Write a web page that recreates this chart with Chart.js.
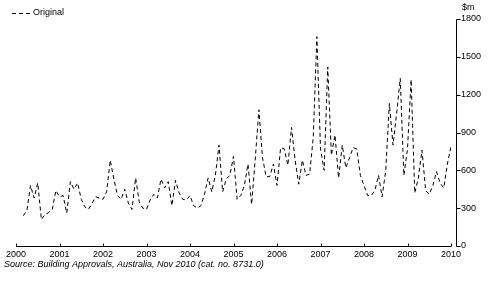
<!DOCTYPE html>
<html>
<head>
<meta charset="utf-8">
<script src="https://cdn.jsdelivr.net/npm/chart.js@4/dist/chart.umd.min.js"></script>
<style>
  html, body { margin: 0; padding: 0; background: #fff; }
  canvas { display: block; }
</style>
</head>
<body>
<canvas id="chart" width="491" height="295"></canvas>
<script>
// Building approvals, original series, $m, monthly from Mar 2000
const startYear = 2000;
const startMonth = 3;
const values = [
  240, 280, 480, 380, 500, 210, 250, 265, 290, 440,
  390, 400, 260, 510, 450, 500, 370, 310, 290, 340,
  390, 380, 370, 430, 680, 530, 400, 370, 450, 340,
  290, 540, 350, 300, 290, 365, 410, 380, 530, 460,
  510, 320, 520, 420, 370, 365, 400, 320, 300, 320,
  410, 540, 430, 560, 800, 430, 530, 560, 710, 370,
  400, 480, 650, 330, 690, 1080, 700, 550, 550, 650,
  480, 780, 770, 640, 940, 680, 490, 680, 560, 570,
  860, 1660, 770, 600, 1420, 720, 880, 540, 800, 620,
  700, 780, 770, 560, 480, 400, 400, 440, 560, 390,
  600, 1130, 800, 1050, 1330, 560, 770, 1320, 420, 540,
  760, 440, 410, 480, 590, 500, 460, 650, 790
];
const years = [2000, 2001, 2002, 2003, 2004, 2005, 2006, 2007, 2008, 2009, 2010];
const yTicks = [0, 300, 600, 900, 1200, 1500, 1800];

const FONT = "'Liberation Sans', Arial, sans-serif";
const points = values.map((v, i) => ({ x: startYear + (startMonth - 1 + i) / 12, y: v }));

// axis lines, ticks, legend and notes in the ABS style
const absAxes = {
  id: "absAxes",
  afterDraw(chart) {
    const { ctx, chartArea: a, scales: { x, y } } = chart;
    ctx.save();
    ctx.strokeStyle = "#000";
    ctx.lineWidth = 1;
    ctx.beginPath();
    const by = Math.round(y.getPixelForValue(0)) + 0.5;
    ctx.moveTo(x.getPixelForValue(years[0]), by);
    ctx.lineTo(x.getPixelForValue(years[years.length - 1]), by);
    years.forEach(yr => {
      const px = Math.round(x.getPixelForValue(yr)) + 0.5;
      ctx.moveTo(px, by);
      ctx.lineTo(px, by - 3);
    });
    const ax = Math.round(a.right) + 5.5;
    ctx.moveTo(ax, Math.round(y.getPixelForValue(1800)) + 0.5);
    ctx.lineTo(ax, by);
    yTicks.forEach(v => {
      const py = Math.round(y.getPixelForValue(v)) + 0.5;
      ctx.moveTo(ax, py);
      ctx.lineTo(ax + 4, py);
    });
    ctx.stroke();

    // legend
    ctx.beginPath();
    ctx.setLineDash([4, 3]);
    ctx.moveTo(12, 13.5);
    ctx.lineTo(31, 13.5);
    ctx.stroke();
    ctx.setLineDash([]);
    ctx.fillStyle = "#000";
    ctx.textBaseline = "middle";
    ctx.font = "9px " + FONT;
    ctx.fillText("Original", 33, 13);
    ctx.fillText("$m", 462, 8);
    ctx.font = "italic 9px " + FONT;
    ctx.fillText("Source: Building Approvals, Australia, Nov 2010 (cat. no. 8731.0)", 4, 264);
    ctx.restore();
  }
};

new Chart(document.getElementById("chart"), {
  type: "line",
  data: {
    datasets: [{
      label: "Original",
      data: points,
      borderColor: "#000",
      borderWidth: 1,
      borderDash: [4, 3],
      pointRadius: 0,
      tension: 0,
      fill: false
    }]
  },
  options: {
    responsive: false,
    animation: false,
    layout: { padding: { left: 16, top: 19, right: 0, bottom: 0 } },
    plugins: { legend: { display: false }, tooltip: { enabled: false } },
    scales: {
      x: {
        type: "linear",
        min: 2000,
        max: 2010,
        afterBuildTicks: s => { s.ticks = years.map(v => ({ value: v })); },
        afterFit: s => { s.height = 49; },
        grid: { display: false, drawTicks: true, tickLength: 0 },
        border: { display: false },
        ticks: {
          autoSkip: false, maxRotation: 0, padding: 3, color: "#000",
          font: { family: FONT, size: 9 },
          callback: v => String(v)
        }
      },
      y: {
        position: "right",
        min: 0,
        max: 1800,
        afterBuildTicks: s => { s.ticks = yTicks.map(v => ({ value: v })); },
        afterFit: s => { s.width = 40; },
        grid: { display: false, drawTicks: true, tickLength: 8 },
        border: { display: false },
        ticks: {
          padding: 2, color: "#000",
          font: { family: FONT, size: 9 },
          callback: v => String(v)
        }
      }
    }
  },
  plugins: [absAxes]
});
</script>
</body>
</html>
